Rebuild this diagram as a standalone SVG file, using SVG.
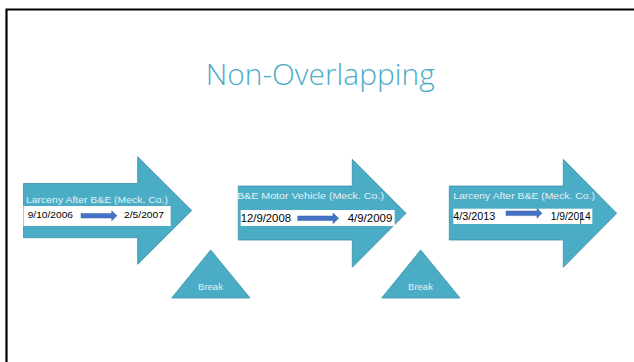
<svg xmlns="http://www.w3.org/2000/svg" width="634" height="362" viewBox="0 0 634 362">
<style>
.big{fill:#4BACC6;stroke:#3A8FA6;stroke-width:0.8}
.tri{fill:#4BACC6;stroke:#3A8FA6;stroke-width:0.8}
.box{fill:#ffffff}
.ttl{font-family:"Liberation Sans",Arial,sans-serif;font-size:9.5px;fill:#E3F1F5}
.date{font-family:"Liberation Sans",Arial,sans-serif;fill:#000000}
.brk{font-family:"Liberation Sans",Arial,sans-serif;font-size:9.5px;fill:#E3F1F5;text-anchor:middle}
.blue{fill:#4472C4;stroke:#3A62A8;stroke-width:0.5}
</style>
<rect width="634" height="362" fill="#ffffff"/>
<path d="M6.5,362 V9.5 H634" fill="none" stroke="#000000" stroke-width="2.2"/>
<text x="205.7" y="85" font-family="'Open Sans','Liberation Sans',sans-serif" font-weight="300" font-size="29" fill="#4BACC6" textLength="229" lengthAdjust="spacingAndGlyphs">Non-Overlapping</text>
<g id="connectors"></g>
<g id="arrow1">
<path class="big" d="M23.5,183.5 H137.7 V156.7 L191.7,210.5 L137.7,264.3 V237.7 H23.5 Z"/>
<rect class="box" x="23.5" y="206" width="147.2" height="20"/>
<text class="ttl" x="26" y="202.7" textLength="142" lengthAdjust="spacingAndGlyphs">Larceny After B&amp;E (Meck. Co.)</text>
<text class="date" x="27.7" y="217.7" font-size="9.5" textLength="45.3" lengthAdjust="spacingAndGlyphs">9/10/2006</text>
<path class="blue" d="M81,213.4 H111.7 V210.7 L117,215.7 L111.7,220.7 V218 H81 Z"/>
<text class="date" x="124" y="217.7" font-size="9.5" textLength="40" lengthAdjust="spacingAndGlyphs">2/5/2007</text>
</g>
<g id="break1">
<path class="tri" d="M210.7,250 L250,298 L171.7,298 Z"/>
<text class="brk" x="210.5" y="289.5">Break</text>
</g>
<g id="arrow2">
<path class="big" d="M238.3,186 H352.3 V159.3 L406,213.3 L352.3,267.3 V240 H238.3 Z"/>
<rect class="box" x="240.7" y="210" width="154" height="16"/>
<text class="ttl" x="237" y="199.3" textLength="147" lengthAdjust="spacingAndGlyphs">B&amp;E Motor Vehicle (Meck. Co.)</text>
<text class="date" x="240.7" y="221.7" font-size="11" textLength="50.3" lengthAdjust="spacingAndGlyphs">12/9/2008</text>
<path class="blue" d="M297.7,216 H333 V213 L338.7,218.3 L333,223.6 V220.6 H297.7 Z"/>
<text class="date" x="347.7" y="221.7" font-size="11" textLength="44.6" lengthAdjust="spacingAndGlyphs">4/9/2009</text>
</g>
<g id="break2">
<path class="tri" d="M420.7,250 L460,298 L381.7,298 Z"/>
<text class="brk" x="420.5" y="289.5">Break</text>
</g>
<g id="arrow3">
<path class="big" d="M449.3,186 H563.3 V159.3 L616.7,213.3 L563.3,267.3 V240 H449.3 Z"/>
<rect class="box" x="453.3" y="208.7" width="139" height="15.3"/>
<text class="ttl" x="453.3" y="199.3" textLength="141.7" lengthAdjust="spacingAndGlyphs">Larceny After B&amp;E (Meck. Co.)</text>
<text class="date" x="453.3" y="220" font-size="10" textLength="42" lengthAdjust="spacingAndGlyphs">4/3/2013</text>
<path class="blue" d="M506,211 H537 V208.3 L542,213.3 L537,218.3 V215.6 H506 Z"/>
<text class="date" x="550.7" y="220" font-size="10" textLength="40" lengthAdjust="spacingAndGlyphs">1/9/2014</text>
<line x1="580.7" y1="212.7" x2="580.7" y2="224" stroke="#000000" stroke-width="0.7"/>
</g>
</svg>
